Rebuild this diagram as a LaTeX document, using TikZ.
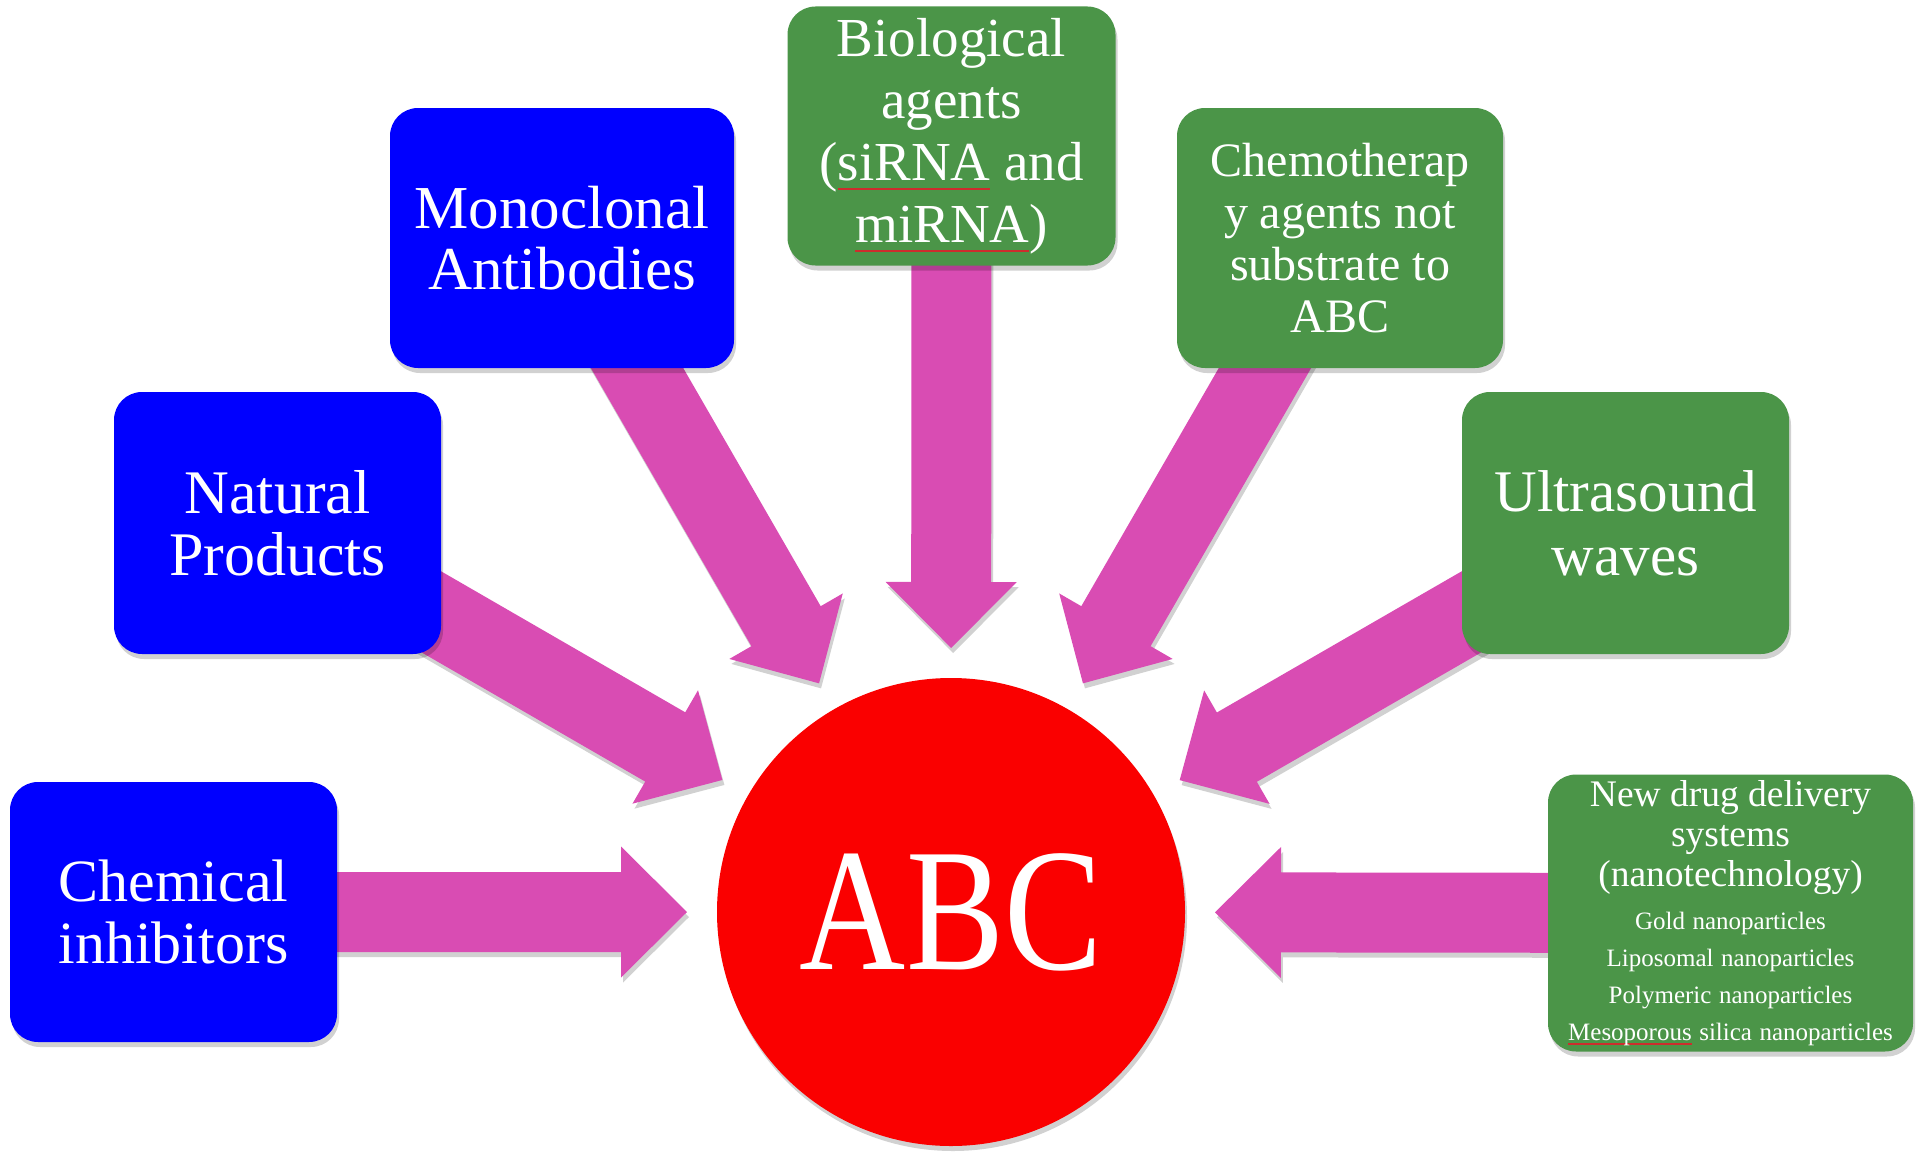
\documentclass[tikz,border=0pt]{standalone}
\usepackage{fontspec}
\usepackage{graphicx}
\setmainfont{Liberation Serif}
\usetikzlibrary{calc,shadows}
\pgfdeclarelayer{bg}
\pgfsetlayers{bg,main}
\definecolor{boxblue}{RGB}{0,0,255}
\definecolor{boxgreen}{RGB}{75,149,72}
\definecolor{arrowpink}{RGB}{217,76,179}
\definecolor{abcred}{RGB}{250,0,0}
\definecolor{squigred}{RGB}{205,45,45}
\newsavebox\sqbox
\newcommand\squig[1]{\sbox\sqbox{#1}\leavevmode\rlap{\color{squigred}\rule[-0.17em]{\wd\sqbox}{1.6pt}}\usebox\sqbox}
\tikzset{
  softshadow/.style={drop shadow={shadow xshift=2pt,shadow yshift=-5pt,opacity=0.18,fill=black}},
  box/.style={rounded corners=28pt,text=white,align=center,inner sep=0pt,softshadow},
  bluebox/.style={box,fill=boxblue},
  greenbox/.style={box,fill=boxgreen},
  arrowshape/.style={fill=arrowpink,softshadow},
  hub/.style={circle,fill=abcred,text=white,minimum size=468pt,inner sep=0pt,softshadow},
}
% fat block arrow from box #1 toward hub #2
\newcommand\fatarrow[2]{%
  \coordinate (fa-t) at ($(#2.center)!264pt!(#1.center)$);
  \coordinate (fa-b) at ($(fa-t)!66pt!(#1.center)$);
  \fill[arrowshape] ($(#1.center)!40pt!90:(fa-t)$) --
    ($(fa-b)!40pt!90:(fa-t)$) --
    ($(fa-b)!65.5pt!90:(fa-t)$) --
    (fa-t) --
    ($(fa-b)!65.5pt!-90:(fa-t)$) --
    ($(fa-b)!40pt!-90:(fa-t)$) --
    ($(#1.center)!40pt!-90:(fa-t)$) -- cycle;
}
\begin{document}
\begin{tikzpicture}[x=1pt,y=-1pt]
\useasboundingbox (0,0) rectangle (1923,1164);

\node[hub,font=\fontsize{175}{175}\selectfont] (abc) at (951,912) {\scalebox{0.84}[1]{ABC}};

\node[bluebox,minimum width=327pt,minimum height=260pt,font=\fontsize{60}{62}\selectfont]
  (chem) at (173.5,912) {Chemical\\inhibitors};
\node[bluebox,minimum width=327pt,minimum height=262pt,font=\fontsize{62}{62}\selectfont]
  (nat) at (277.5,523) {Natural\\Products};
\node[bluebox,minimum width=344pt,minimum height=260pt,font=\fontsize{61}{61}\selectfont]
  (mono) at (562,238) {Monoclonal\\Antibodies};
\node[greenbox,minimum width=328pt,minimum height=259pt,font=\fontsize{55}{62}\selectfont]
  (bio) at (951.5,136) {Biological\\agents\\(\squig{siRNA} and\\\squig{miRNA})};
\node[greenbox,minimum width=326pt,minimum height=260pt,font=\fontsize{48}{52}\selectfont]
  (chemo) at (1340,238) {Chemotherap\\y agents not\\substrate to\\ABC};
\node[greenbox,minimum width=327pt,minimum height=262pt,font=\fontsize{59}{64}\selectfont]
  (ultra) at (1625.5,523) {Ultrasound\\waves};
\node[greenbox,minimum width=365pt,minimum height=277pt,text width=362pt]
  (nano) at (1730.5,913) {{\fontsize{37.5}{40}\selectfont\spaceskip=0.25em New drug delivery\\systems\\(nanotechnology)\par}\vspace{6pt}%
  {\fontsize{25}{37}\selectfont\spaceskip=0.3em Gold nanoparticles\\Liposomal nanoparticles\\Polymeric nanoparticles\\\squig{Mesoporous} silica nanoparticles\par}};

\begin{pgfonlayer}{bg}
\fatarrow{chem}{abc}
\fatarrow{nat}{abc}
\fatarrow{mono}{abc}
\fatarrow{bio}{abc}
\fatarrow{chemo}{abc}
\fatarrow{ultra}{abc}
\fatarrow{nano}{abc}
\end{pgfonlayer}
\end{tikzpicture}
\end{document}
